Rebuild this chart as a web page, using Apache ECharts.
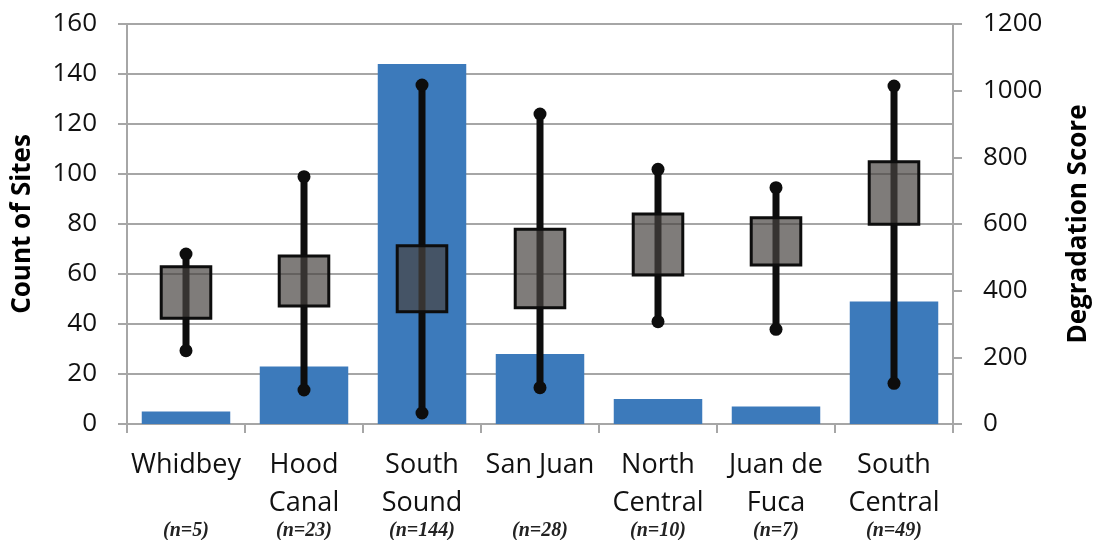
<!DOCTYPE html>
<html>
<head>
<meta charset="utf-8">
<script src="https://cdn.jsdelivr.net/npm/echarts@6/dist/echarts.min.js"></script>
<style>
  html, body { margin: 0; padding: 0; background: #fff; }
  #chart { width: 1093px; height: 540px; }
</style>
</head>
<body>
<div id="chart"></div>
<script>
// Regions of the sound, with site counts (bars) and degradation score spread (boxes)
const regions = ['Whidbey', 'Hood\nCanal', 'South\nSound', 'San Juan', 'North\nCentral', 'Juan de\nFuca', 'South\nCentral'];
const siteCounts = [5, 23, 144, 28, 10, 7, 49];

// Degradation score summary per region: whisker ends and box edges
const scoreMin = [220, 102, 33, 109, 307, 284, 122];
const scoreQ1 = [317, 354, 337, 349, 447, 477, 599];
const scoreQ3 = [472, 504, 535, 584, 630, 619, 787];
const scoreMax = [510, 742, 1017, 930, 764, 709, 1014];

const countTicks = { min: 0, max: 160, interval: 20 };
const scoreTicks = { min: 0, max: 1200, interval: 200 };

const axisGray = '#a6a6a6';
const ink = '#0d0d0d';
const baseFont = '"Open Sans", Lato, sans-serif';

const boxData = regions.map((r, i) => [i, scoreMin[i], scoreQ1[i], scoreQ3[i], scoreMax[i]]);

function renderBox(params, api) {
  const i = api.value(0);
  const lo = api.coord([i, api.value(1)]);
  const q1 = api.coord([i, api.value(2)]);
  const q3 = api.coord([i, api.value(3)]);
  const hi = api.coord([i, api.value(4)]);
  const w = api.size([1, 0])[0] * 0.42;
  return {
    type: 'group',
    children: [
      { type: 'line', shape: { x1: lo[0], y1: lo[1], x2: hi[0], y2: hi[1] },
        style: { stroke: ink, lineWidth: 7 } },
      { type: 'circle', shape: { cx: lo[0], cy: lo[1], r: 6.5 }, style: { fill: ink } },
      { type: 'circle', shape: { cx: hi[0], cy: hi[1], r: 6.5 }, style: { fill: ink } },
      { type: 'rect', shape: { x: q3[0] - w / 2, y: q3[1], width: w, height: q1[1] - q3[1] },
        style: { fill: 'rgba(72,68,66,0.7)', stroke: ink, lineWidth: 3 } }
    ]
  };
}

const chart = echarts.init(document.getElementById('chart'), null, { renderer: 'canvas' });
chart.setOption({
  animation: false,
  backgroundColor: '#fff',
  grid: { left: 127, right: 140, top: 24, bottom: 116, containLabel: false, outerBoundsMode: 'none' },
  xAxis: {
    type: 'category',
    data: regions,
    axisLine: { lineStyle: { color: axisGray, width: 2 } },
    axisTick: { show: true, length: 9, lineStyle: { color: axisGray, width: 2 } },
    axisLabel: {
      margin: 22,
      interval: 0,
      formatter: function (value, idx) {
        const lines = value.split('\n');
        const second = lines[1] !== undefined ? lines[1] : ' ';
        return '{c|' + lines[0] + '}\n{c|' + second + '}\n{n|(n=' + siteCounts[idx] + ')}';
      },
      rich: {
        c: { fontFamily: baseFont, fontSize: 27, color: '#111', lineHeight: 38 },
        n: { fontFamily: '"Liberation Serif", serif', fontStyle: 'italic', fontWeight: 'bold',
             fontSize: 20, color: '#222', lineHeight: 18 }
      }
    }
  },
  yAxis: [
    {
      type: 'value',
      min: countTicks.min, max: countTicks.max, interval: countTicks.interval,
      name: 'Count of Sites',
      nameLocation: 'middle',
      nameRotate: 90,
      nameGap: 91,
      nameTextStyle: { fontFamily: baseFont, fontSize: 26, fontWeight: 'bold', color: '#000' },
      axisLine: { show: true, lineStyle: { color: axisGray, width: 2 } },
      axisTick: { show: true, length: 9, lineStyle: { color: axisGray, width: 2 } },
      axisLabel: { margin: 30, fontFamily: baseFont, fontSize: 26, color: '#111' },
      splitLine: { show: true, lineStyle: { color: axisGray, width: 2 } }
    },
    {
      type: 'value',
      position: 'right',
      min: scoreTicks.min, max: scoreTicks.max, interval: scoreTicks.interval,
      name: 'Degradation Score',
      nameLocation: 'middle',
      nameRotate: 90,
      nameGap: 113,
      nameTextStyle: { fontFamily: baseFont, fontSize: 26, fontWeight: 'bold', color: '#000' },
      axisLine: { show: true, lineStyle: { color: axisGray, width: 2 } },
      axisTick: { show: true, length: 9, lineStyle: { color: axisGray, width: 2 } },
      axisLabel: { margin: 30, fontFamily: baseFont, fontSize: 26, color: '#111',
                   formatter: function (v) { return String(v); } },
      splitLine: { show: false }
    }
  ],
  series: [
    {
      name: 'Count of Sites',
      type: 'bar',
      yAxisIndex: 0,
      data: siteCounts,
      barCategoryGap: '25%',
      itemStyle: { color: '#3c7abb' },
      z: 2
    },
    {
      name: 'Degradation Score',
      type: 'custom',
      yAxisIndex: 1,
      renderItem: renderBox,
      encode: { x: 0, y: [1, 2, 3, 4] },
      data: boxData,
      z: 3
    }
  ]
});
</script>
</body>
</html>
